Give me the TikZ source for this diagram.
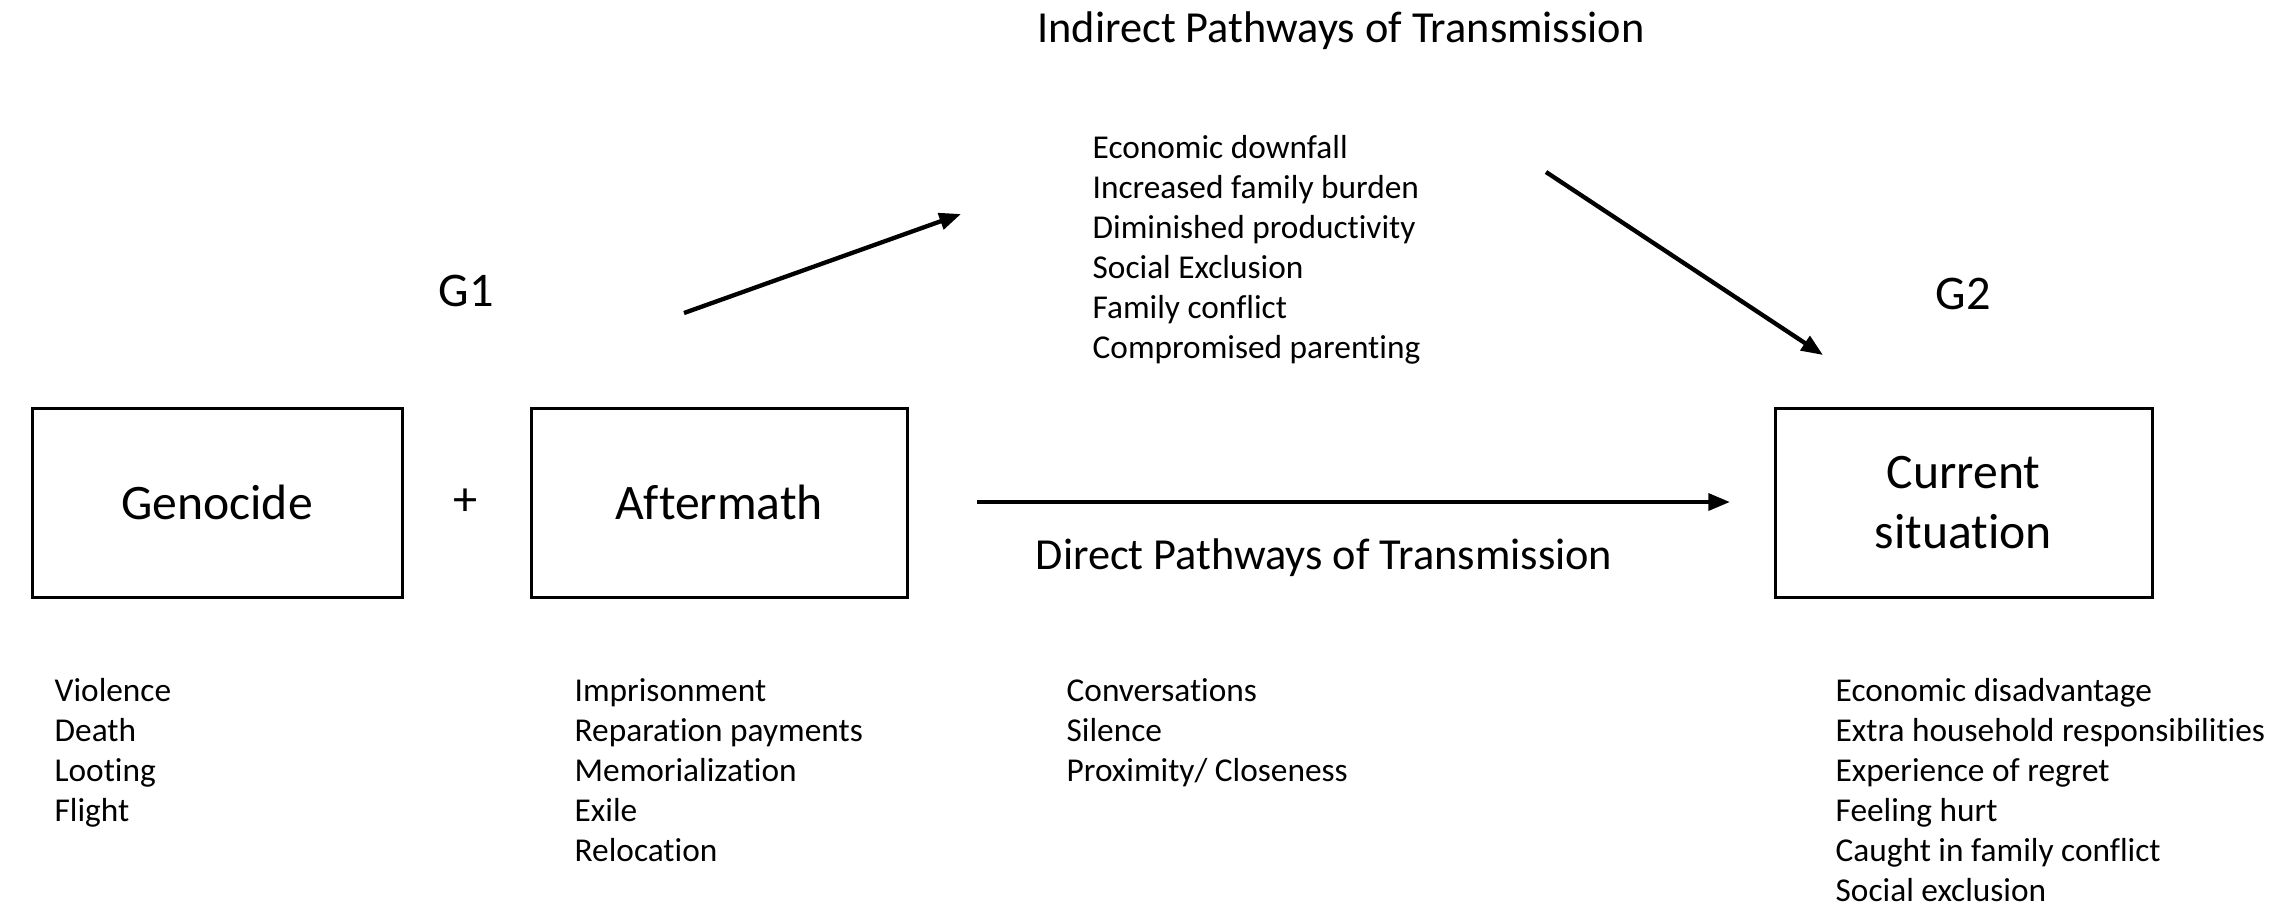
\documentclass[tikz,border=0pt]{standalone}
\usepackage{fontspec}
\setmainfont{Carlito}[Ligatures={NoCommon}]
\usetikzlibrary{arrows.meta}
\begin{document}
\begin{tikzpicture}[x=0.3pt,y=-0.3pt,
  box/.style={draw,line width=0.9pt,minimum height=56.7pt,inner sep=0pt,align=center,font=\fontsize{14.9}{18}\selectfont},
  lst/.style={anchor=north west,inner sep=0pt,align=left,font=\fontsize{10}{12}\selectfont},
  lbl/.style={inner sep=0pt,font=\fontsize{13.3}{16}\selectfont},
  gl/.style={inner sep=0pt,font=\fontsize{14.5}{17}\selectfont},
  arr/.style={line width=1.3pt,-{Triangle[length=6.5pt,width=5pt]}}]
\useasboundingbox (0,0) rectangle (2283,915);
\node[box,minimum width=111pt] (geno) at (217,502.5) {Genocide};
\node[box,minimum width=112.8pt] (after) at (719,502.5) {Aftermath};
\node[box,minimum width=113.1pt] (curr) at (1963.5,502.5) {Current\\situation};
\node[gl] (plus) at (466,502) {+};
\node[gl] (g1) at (466,291) {G1};
\node[gl] (g2) at (1963,294) {G2};
\node[lbl] (title) at (1341,31) {Indirect Pathways of Transmission};
\node[lbl] (direct) at (1324,558) {Direct Pathways of Transmission};
\node[lst] (indirect) at (1092,135) {Economic downfall\\Increased family burden\\Diminished productivity\\Social Exclusion\\Family conflict\\Compromised parenting};
\node[lst] (l1) at (54,678) {Violence\\Death\\Looting\\Flight};
\node[lst] (l2) at (574,678) {Imprisonment\\Reparation payments\\Memorialization\\Exile\\Relocation};
\node[lst] (l3) at (1066,678) {Conversations\\Silence\\Proximity/ Closeness};
\node[lst] (l4) at (1835,678) {Economic disadvantage\\Extra household responsibilities\\Experience of regret\\Feeling hurt\\Caught in family conflict\\Social exclusion};
\coordinate (a1s) at (684,313);
\coordinate (a1e) at (961,214);
\coordinate (a2s) at (1546,172);
\coordinate (a2e) at (1823,355);
\coordinate (a3s) at (977,502);
\coordinate (a3e) at (1730,502);
\draw[arr] (a1s) -- (a1e);
\draw[arr] (a2s) -- (a2e);
\draw[arr] (a3s) -- (a3e);
\end{tikzpicture}
\end{document}
